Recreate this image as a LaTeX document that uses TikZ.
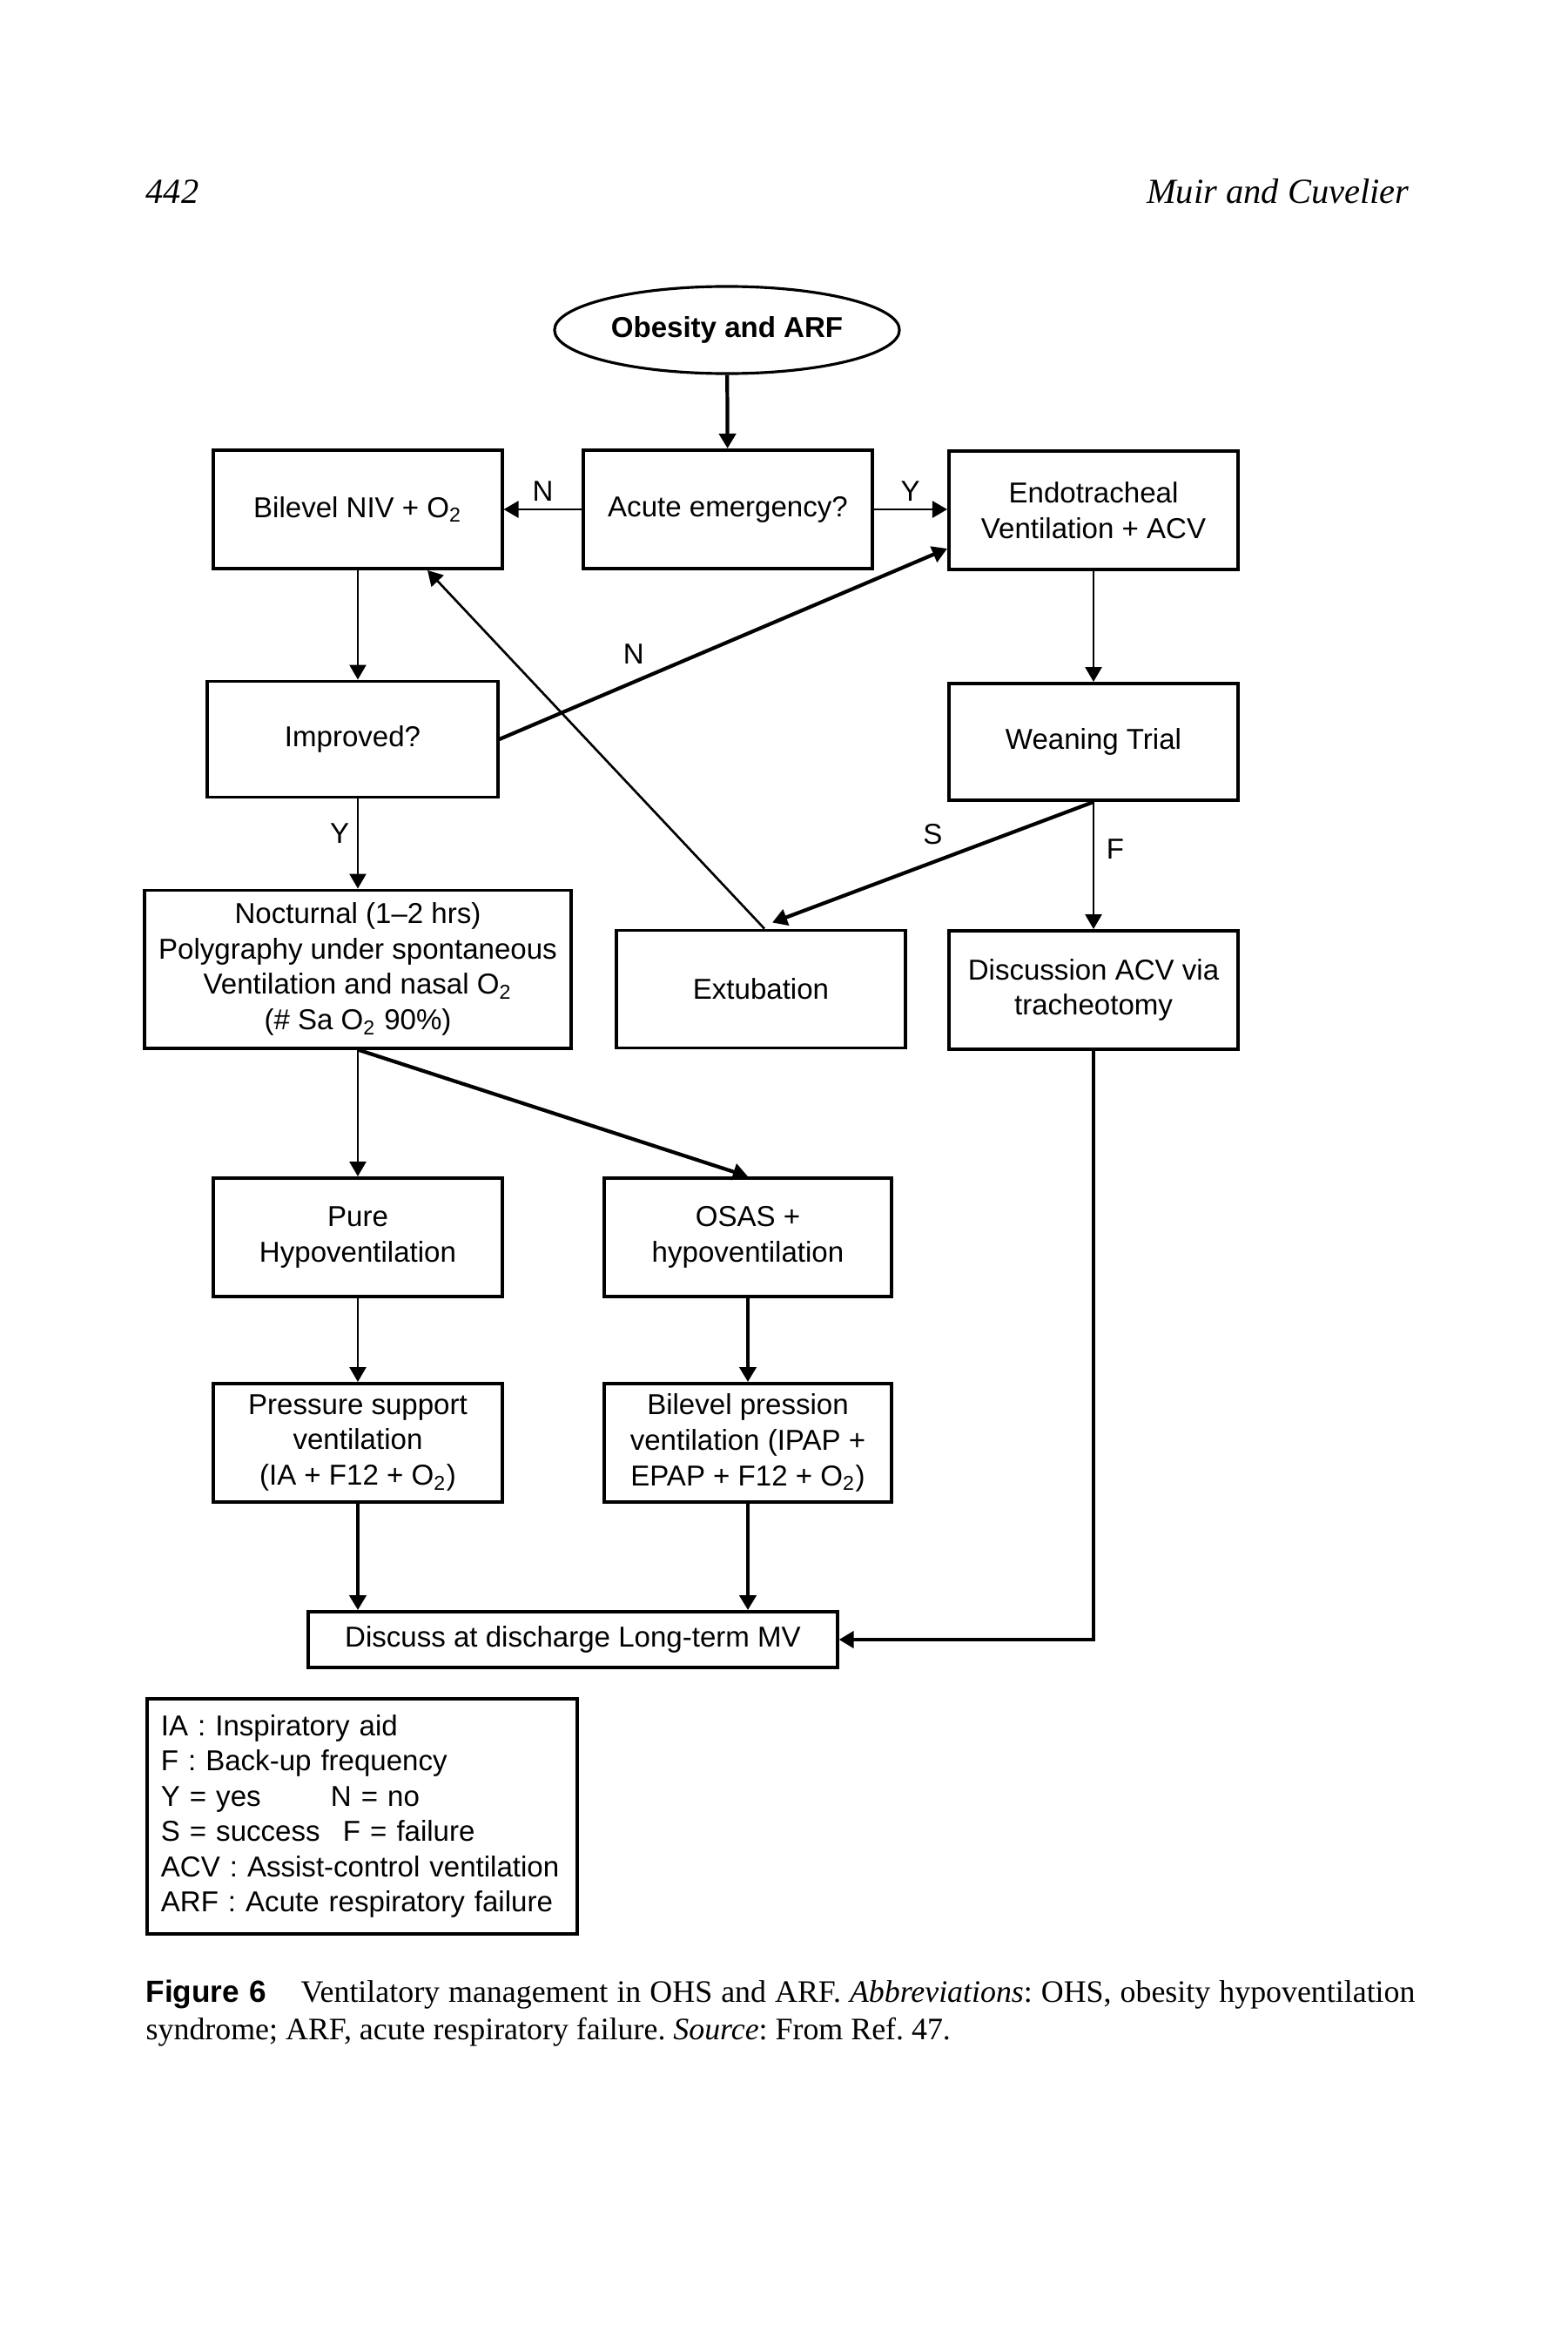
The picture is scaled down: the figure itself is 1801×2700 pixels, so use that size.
\documentclass[tikz,border=0pt]{standalone}
\usepackage{fontspec}
\setmainfont{Liberation Serif}
\setsansfont{Liberation Sans}
\usepackage{tikz}
\usetikzlibrary{positioning,calc,shapes.geometric,arrows.meta}

\begin{document}
\frenchspacing
\begin{tikzpicture}[x=0.01cm,y=-0.01cm,
	box/.style={draw, line width=1.1pt, minimum width=3.31cm, minimum height=1.36cm, align=center, inner sep=1pt, font=\sffamily\fontsize{9.4}{11.6}\selectfont},
	link/.style={line width=0.75pt, -{Triangle[length=1.7mm,width=1.9mm]}},
	heavy/.style={link, line width=1.2pt},
	tag/.style={font=\sffamily\fontsize{9.4}{11.6}\selectfont, inner sep=1pt}]
	\def\colA{411}
	\def\colB{859}
	\def\colC{1256}
	\useasboundingbox (0,0) rectangle (1801,2700);
	
	% page head
	\node[anchor=base west, inner sep=0, font=\itshape\fontsize{11.5}{14}\selectfont] (pagenum) at (167,233) {442};
	\node[anchor=base east, inner sep=0, font=\itshape\fontsize{11.5}{14}\selectfont] (authors) at (1619,233) {Muir and Cuvelier};
	
	% top row
	\node[ellipse, draw, line width=0.9pt, minimum width=3.96cm, minimum height=1.0cm, inner sep=0pt, font=\sffamily\bfseries\fontsize{9.4}{11.6}\selectfont] (obes) at (835,379) {Obesity and ARF};
	\node[box] (acute) at (836,585) {Acute emergency?};
	\node[box] (niv) at (\colA,585) {Bilevel NIV + O\textsubscript{2}};
	\node[box, minimum width=3.32cm] (endo) at (\colC,586) {Endotracheal\\Ventilation + ACV};
	
	% second row
	\node[box, minimum width=3.33cm, minimum height=1.33cm] (impr) at (405,849) {Improved?};
	\node[box, minimum width=3.32cm, minimum height=1.34cm] (wean) at (\colC,852) {Weaning Trial};
	
	% third row
	\node[box, minimum width=4.89cm, minimum height=1.81cm] (noct) at (\colA,1113) {Nocturnal (1–2 hrs)\\Polygraphy under spontaneous\\Ventilation and nasal O\textsubscript{2}\\(\# Sa O\textsubscript{2} 90\%)};
	\node[box, minimum width=3.32cm, minimum height=1.35cm] (extu) at (874,1136) {Extubation};
	\node[box, minimum width=3.32cm] (trach) at (\colC,1137) {Discussion ACV via\\tracheotomy};
	
	% lower rows
	\node[box] (pure) at (\colA,1421) {Pure\\Hypoventilation};
	\node[box, minimum width=3.30cm] (osas) at (\colB,1421) {OSAS +\\hypoventilation};
	\node[box] (press) at (\colA,1657) {Pressure support\\ventilation\\(IA + F12 + O\textsubscript{2})};
	\node[box, minimum width=3.30cm] (bipr) at (\colB,1657) {Bilevel pression\\ventilation (IPAP +\\EPAP + F12 + O\textsubscript{2})};
	\node[box, minimum width=6.07cm, minimum height=0.64cm] (disch) at (658,1883) {Discuss at discharge Long-term MV};
	
	% arrows
	\draw[heavy] (obes) -- (acute);
	\draw[link] (acute) -- node[tag, above=0.5mm] {N} (niv);
	\draw[link] (acute.east) -- node[tag, above=0.5mm] {Y} (acute.east -| endo.west);
	\draw[link] (niv.south) -- (niv.south |- impr.north);
	\draw[heavy] (impr.east) -- node[tag, pos=0.3, above=1.5mm] {N} ([yshift=-0.44cm]endo.west);
	\draw[link] ([xshift=0.04cm]extu.north) -- ([xshift=0.8cm]niv.south);
	\draw[link] (endo) -- (wean);
	\draw[heavy] (wean.south) -- node[tag, above=1.5mm] {S} ([xshift=0.13cm,yshift=0.07cm]extu.north);
	\draw[link] (wean) -- node[tag, pos=0.37, right=1mm] {F} (trach);
	\draw[link] (impr.south -| noct.north) -- node[tag, pos=0.38, left=0.5mm] {Y} (noct.north);
	\draw[link] (noct) -- (pure);
	\draw[heavy] (noct.south) -- (osas.north);
	\draw[link] (pure) -- (press);
	\draw[heavy] (osas) -- (bipr);
	\draw[heavy] (press.south) -- (press.south |- disch.north);
	\draw[heavy] (bipr.south) -- (bipr.south |- disch.north);
	\draw[heavy] (trach.south) |- (disch.east);
	
	% key
	\node[draw, line width=1.1pt, text width=4.62cm, minimum height=2.7cm, align=left, inner xsep=0.155cm, inner ysep=0.1cm, font=\sffamily\fontsize{9.4}{11.5}\selectfont] (legend) at (416,2086) {IA : Inspiratory aid\\F : Back-up frequency\\\makebox[1.95cm][l]{Y = yes}N = no\\\makebox[2.09cm][l]{S = success}F = failure\\ACV : Assist-control ventilation\\ARF : Acute respiratory failure};
	
	% caption
	\node[anchor=base west, inner sep=0, font=\fontsize{10.2}{12.2}\selectfont] (capa) at (167,2299) {\makebox[14.57cm][s]{\textsf{\bfseries\fontsize{10}{12}\selectfont Figure 6}\hspace{0.4cm}Ventilatory management in OHS and ARF. \textit{Abbreviations}: OHS, obesity hypoventilation}};
	\node[anchor=base west, inner sep=0, font=\fontsize{10.2}{12.2}\selectfont] (capb) at (167,2342) {syndrome; ARF, acute respiratory failure. \textit{Source}: From Ref. 47.};
\end{tikzpicture}
\end{document}
